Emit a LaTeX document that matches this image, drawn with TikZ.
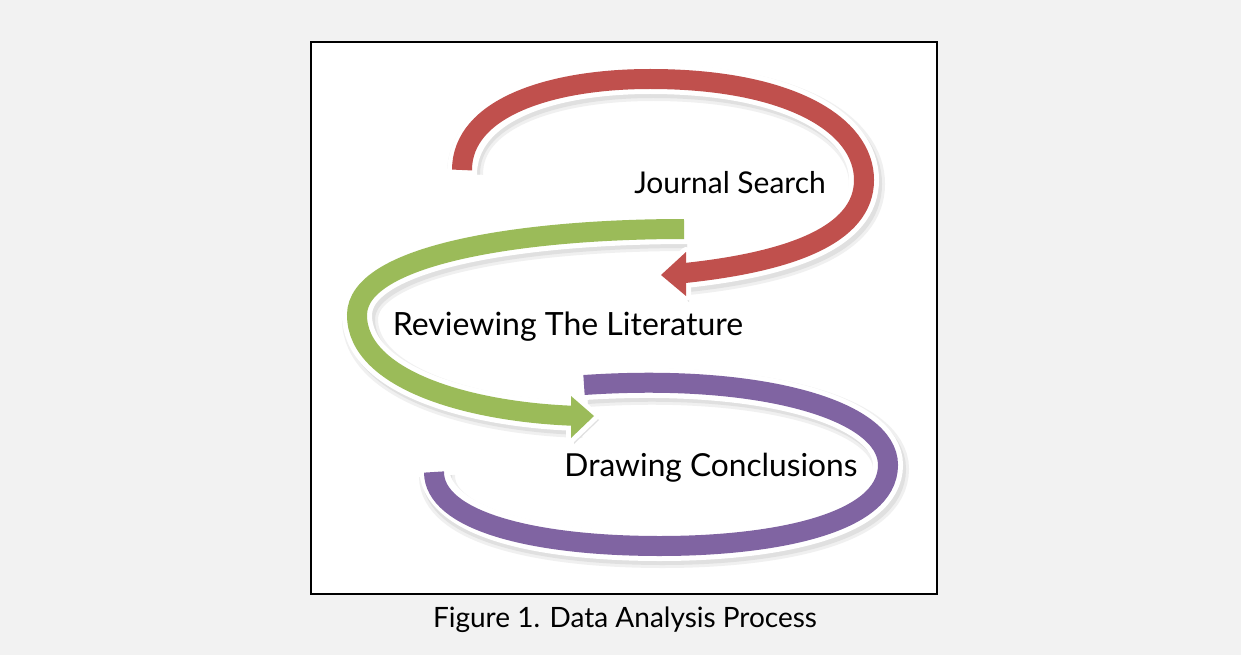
\documentclass[tikz,border=0pt]{standalone}
\usepackage{fontspec}
\setmainfont{Lato}
\usepackage{tikz}
\usetikzlibrary{calc}

\definecolor{pagegray}{HTML}{F2F2F2}
\definecolor{redarc}{HTML}{C0504D}
\definecolor{greenarc}{HTML}{9BBB59}
\definecolor{purplearc}{HTML}{8064A2}

\begin{document}
\begin{tikzpicture}[x=1pt, y=-1pt,
		shade1/.style={draw=black!6, line width=36},
		shade2/.style={draw=black!12, line width=30},
		rim/.style={draw=white, line width=30},
		band/.style={line width=20},
		headrim/.style={draw=white, fill=white, line width=10, line join=round},
		label/.style={inner sep=0pt, font=\fontsize{30}{34}\selectfont}]
	\useasboundingbox (0, 0) rectangle (1241, 655);
	\fill[pagegray](0, 0) rectangle (1241, 655);
	\draw[line width=1.5, fill=white](311, 42) rectangle (937, 594);

	% shadows
	\begin{scope}[shift={(3, 4)}]
		\foreach \s in {shade1, shade2}{
			\draw[\s](584, 385) .. controls (760, 373) and (888, 410) .. (888, 465) .. controls (888, 525) and (770, 546) .. (660, 546) .. controls (530, 546) and (434, 520) .. (434, 472);
			\draw[\s](684, 229) .. controls (520, 229) and (357, 255) .. (357, 315) .. controls (357, 380) and (470, 413) .. (580, 416);
			\draw[\s](462, 170) .. controls (462, 108) and (550, 79) .. (650, 79) .. controls (790, 79) and (864, 125) .. (864, 180) .. controls (864, 235) and (790, 263) .. (675, 274);
		}
		\fill[black!12](571, 394) -- (596, 416) -- (571, 440) -- cycle;
		\fill[black!12](686, 250) -- (659, 275) -- (686, 298) -- cycle;
	\end{scope}

	% purple: drawing conclusions
	\draw[rim, shorten <=-5, shorten >=-5](584, 385) .. controls (760, 373) and (888, 410) .. (888, 465) .. controls (888, 525) and (770, 546) .. (660, 546) .. controls (530, 546) and (434, 520) .. (434, 472);
	\draw[band, purplearc](584, 385) .. controls (760, 373) and (888, 410) .. (888, 465) .. controls (888, 525) and (770, 546) .. (660, 546) .. controls (530, 546) and (434, 520) .. (434, 472);

	% green: reviewing
	\draw[rim, shorten <=-5](684, 229) .. controls (520, 229) and (357, 255) .. (357, 315) .. controls (357, 380) and (470, 413) .. (580, 416);
	\filldraw[headrim](571, 396) -- (594, 416) -- (571, 438) -- cycle;
	\draw[band, greenarc](684, 229) .. controls (520, 229) and (357, 255) .. (357, 315) .. controls (357, 380) and (470, 413) .. (580, 416);
	\fill[greenarc](571, 396) -- (594, 416) -- (571, 438) -- cycle;

	% red: journal search
	\draw[rim, shorten <=-5](462, 170) .. controls (462, 108) and (550, 79) .. (650, 79) .. controls (790, 79) and (864, 125) .. (864, 180) .. controls (864, 235) and (790, 263) .. (675, 274);
	\filldraw[headrim](686, 252) -- (661, 275) -- (686, 296) -- cycle;
	\draw[band, redarc](462, 170) .. controls (462, 108) and (550, 79) .. (650, 79) .. controls (790, 79) and (864, 125) .. (864, 180) .. controls (864, 235) and (790, 263) .. (675, 274);
	\fill[redarc](686, 252) -- (661, 275) -- (686, 296) -- cycle;

	\node[label] (journal) at (730, 183) {Journal Search};
	\node[label, font=\fontsize{32}{36}\selectfont] (reviewing) at (568, 327) {Reviewing The Literature};
	\node[label, font=\fontsize{31.7}{36}\selectfont] (drawing) at (711, 468) {Drawing Conclusions};
	\node[label, font=\fontsize{28}{32}\selectfont] (caption) at (625, 620) {Figure 1. Data Analysis Process};
\end{tikzpicture}
\end{document}
